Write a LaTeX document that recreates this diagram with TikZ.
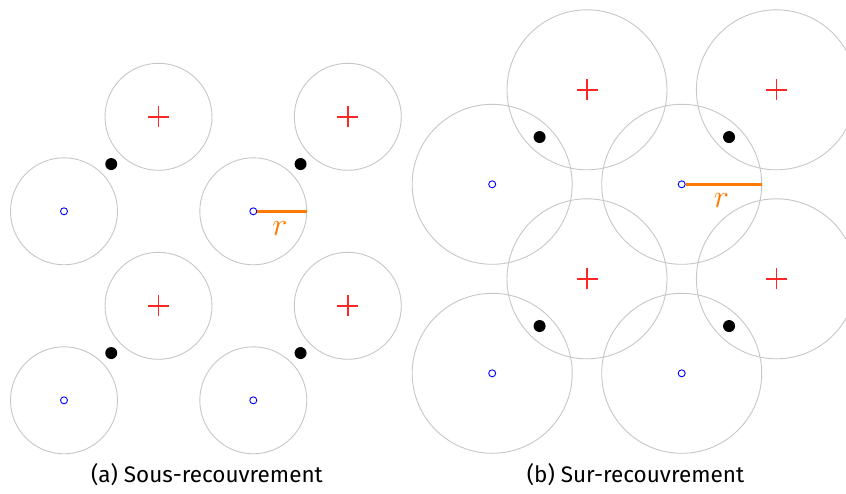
\documentclass[tikz,border=0pt]{standalone}
\usepackage{fontspec}
\setmainfont{Fira Sans}
\usetikzlibrary{calc}
\begin{document}
\begin{tikzpicture}[x=1pt,y=-1pt,
  disk/.style={circle,draw=black!22,line width=0.9pt,minimum size=#1,inner sep=0pt},
  ctr/.style={circle,draw=blue,line width=0.9pt,minimum size=7pt,inner sep=0pt},
  dot/.style={circle,fill=black,minimum size=12pt,inner sep=0pt},
  crossline/.style={draw=red!85,line width=1.4pt},
  radius line/.style={draw=orange!95!red,line width=2.8pt},
  rlabel/.style={text=orange!95!red,font=\fontsize{24}{24}\selectfont,scale=1.3,inner sep=0pt},
  caption/.style={font=\fontsize{22.5}{26}\selectfont,inner sep=0pt}]
\fill[white] (0,0) rectangle (846,493);
\useasboundingbox (0,0) rectangle (846,493);
% ---------- (a) ----------
\foreach \n/\x/\y in {a1/64/211.3,a2/253.3/211.3,a3/64/400.3,a4/253.3/400.3}{
  \node[disk=107pt] (c\n) at (\x,\y) {};
}
\foreach \n/\x/\y in {b1/158.5/116.8,b2/347.8/116.8,b3/158.5/305.8,b4/347.8/305.8}{
  \node[disk=107pt] (c\n) at (\x,\y) {};
}
% ---------- (b) ----------
\foreach \n/\x/\y in {d1/492.2/184.3,d2/681.7/184.3,d3/492.2/373.3,d4/681.7/373.3}{
  \node[disk=160pt] (c\n) at (\x,\y) {};
}
\foreach \n/\x/\y in {e1/587/89.8,e2/776.4/89.8,e3/587/278.8,e4/776.4/278.8}{
  \node[disk=160pt] (c\n) at (\x,\y) {};
}
% markers
\foreach \n in {a1,a2,a3,a4,d1,d2,d3,d4}{
  \node[ctr] (o\n) at (c\n.center) {};
}
\foreach \n in {b1,b2,b3,b4,e1,e2,e3,e4}{
  \draw[crossline] ([xshift=-10.5pt]c\n.center) -- ([xshift=10.5pt]c\n.center)
                   ([yshift=-10.5pt]c\n.center) -- ([yshift=10.5pt]c\n.center);
}
\foreach \p/\q/\m in {a1/b1/k1,a2/b2/k2,a3/b3/k3,a4/b4/k4,d1/e1/k5,d2/e2/k6,d3/e3/k7,d4/e4/k8}{
  \node[dot] (\m) at ($(c\p.center)!0.5!(c\q.center)$) {};
}
% radius
\draw[radius line] (oa2.east) -- (ca2.east);
\node[rlabel] (ra) at (280,229) {$r$};
\draw[radius line] (od2.east) -- (cd2.east);
\node[rlabel] (rb) at (721.5,201) {$r$};
% captions
\node[caption] (capa) at (207,475) {(a) Sous-recouvrement};
\node[caption] (capb) at (635.5,475) {(b) Sur-recouvrement};
\end{tikzpicture}
\end{document}
